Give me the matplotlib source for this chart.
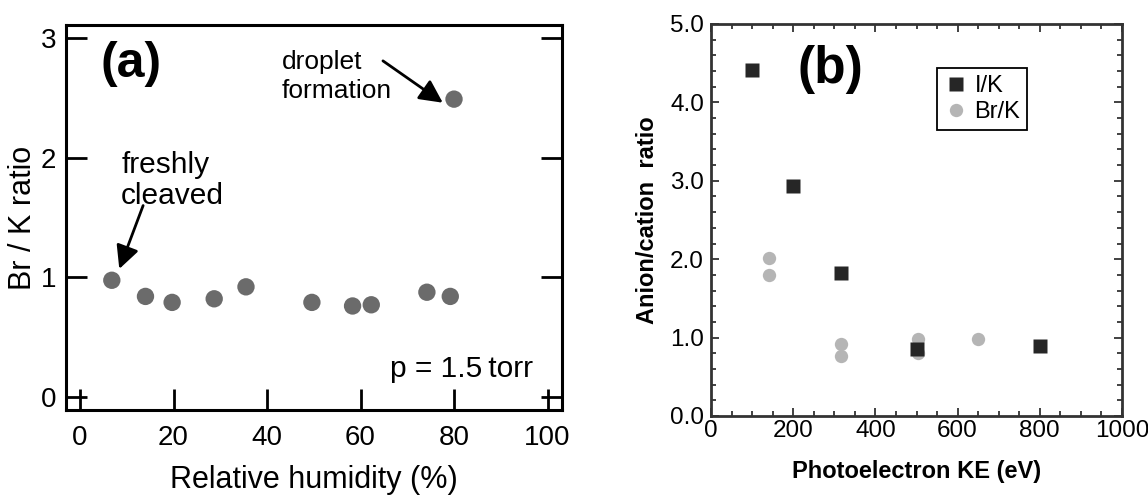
import matplotlib
matplotlib.use("Agg")
import matplotlib.pyplot as plt
from matplotlib.ticker import MultipleLocator, FormatStrFormatter

plt.rcParams['font.family'] = ['Liberation Sans', 'DejaVu Sans']

# ---- Panel (a) data ----
rh = [6.8, 14.0, 19.7, 28.7, 35.5, 49.6, 58.3, 62.3, 74.2, 79.2, 80.0]
br_k = [0.975, 0.84, 0.79, 0.82, 0.92, 0.79, 0.76, 0.77, 0.875, 0.84, 2.49]
a_xticks = [0, 20, 40, 60, 80, 100]
a_yticks = [0, 1, 2, 3]

# ---- Panel (b) data ----
ik_ke = [100, 200, 317, 500, 800]
ik_ratio = [4.41, 2.93, 1.82, 0.855, 0.89]
brk_ke = [141, 141, 316, 316, 503, 503, 650]
brk_ratio = [2.01, 1.80, 0.92, 0.76, 0.985, 0.80, 0.985]

W, H = 1148, 500
fig = plt.figure(figsize=(W / 100, H / 100), dpi=100)

# ---------------- Panel (a) ----------------
l, r, t, b = 66, 562, 25, 410
ax1 = fig.add_axes([l / W, 1 - b / H, (r - l) / W, (b - t) / H])
ax1.scatter(rh, br_k, s=12.5 ** 2, color='#6b6b6b', edgecolors='none', zorder=3)
ax1.set_xlim(-3.0, 103.1)
ax1.set_ylim(-0.11, 3.11)
ax1.set_xticks(a_xticks)
ax1.set_yticks(a_yticks)
for sp in ax1.spines.values():
    sp.set_linewidth(2.2)
ax1.tick_params(axis='both', direction='in', length=15, width=2.0, labelsize=20,
                left=True, right=True, top=False, bottom=True)
ax1.tick_params(axis='x', pad=11)
ax1.tick_params(axis='y', pad=7)
ax1.set_xlabel('Relative humidity (%)', fontsize=22, labelpad=10)
ax1.set_ylabel('Br / K ratio', fontsize=22, labelpad=2)

ax1.text(4.3, 2.78, '(a)', fontsize=36, fontweight='bold', va='center', ha='left')
ax1.text(43.2, 2.68, 'droplet\nformation', fontsize=19, va='center', ha='left',
         linespacing=1.3)
ax1.text(8.8, 1.81, 'freshly\ncleaved', fontsize=21.5, va='center', ha='left',
         linespacing=1.15)
ax1.text(96.8, 0.165, 'p = 1.5\u2009torr', fontsize=21.5, va='baseline', ha='right',
         family=['Liberation Sans', 'DejaVu Sans'])

arrow_kw = dict(arrowstyle='-|>,head_length=1.4,head_width=0.7', color='black',
                lw=2.0, shrinkA=0, shrinkB=0)
ax1.annotate('', xy=(77.6, 2.46), xytext=(64.8, 2.81), arrowprops=arrow_kw)
ax1.annotate('', xy=(8.4, 1.07), xytext=(13.5, 1.60), arrowprops=arrow_kw)

# ---------------- Panel (b) ----------------
l, r, t, b = 711, 1122, 24, 416
ax2 = fig.add_axes([l / W, 1 - b / H, (r - l) / W, (b - t) / H])
ax2.plot(brk_ke, brk_ratio, 'o', ms=9.6, color='#b5b5b5', mec='none',
         label='Br/K', zorder=2)
ax2.plot(ik_ke, ik_ratio, 's', ms=10.4, color='#262626', mec='none',
         label='I/K', zorder=3)
ax2.set_xlim(0, 1000)
ax2.set_ylim(0, 5)
ax2.xaxis.set_major_locator(MultipleLocator(200))
ax2.xaxis.set_minor_locator(MultipleLocator(50))
ax2.yaxis.set_major_locator(MultipleLocator(1.0))
ax2.yaxis.set_minor_locator(MultipleLocator(0.2))
ax2.yaxis.set_major_formatter(FormatStrFormatter('%.1f'))
for sp in ax2.spines.values():
    sp.set_linewidth(2.0)
    sp.set_color('#333333')
ax2.tick_params(which='both', direction='in', top=True, right=True,
                color='#333333', width=1.3)
ax2.tick_params(which='major', length=6, labelsize=17.5, pad=5)
ax2.tick_params(which='minor', length=3.5)
ax2.tick_params(axis='x', which='major', pad=3)
ax2.set_xlabel('Photoelectron KE (eV)', fontsize=17, fontweight='bold',
               labelpad=13)
ax2.set_ylabel('Anion/cation  ratio', fontsize=17, fontweight='bold',
               labelpad=8)
ax2.text(211, 4.42, '(b)', fontsize=37, fontweight='bold', va='center', ha='left')

handles, labels = ax2.get_legend_handles_labels()
leg = ax2.legend(handles[::-1], labels[::-1], loc='upper left',
                 bbox_to_anchor=((936.7 - l) / (r - l), 1 - (68.3 - t) / (b - t)),
                 fontsize=17, frameon=True, fancybox=False, framealpha=1,
                 edgecolor='black', borderpad=0.3, handletextpad=0.3,
                 handlelength=1.0, labelspacing=0.15, borderaxespad=0)
leg.get_frame().set_linewidth(1.3)

fig.savefig('out.png', dpi=100)
